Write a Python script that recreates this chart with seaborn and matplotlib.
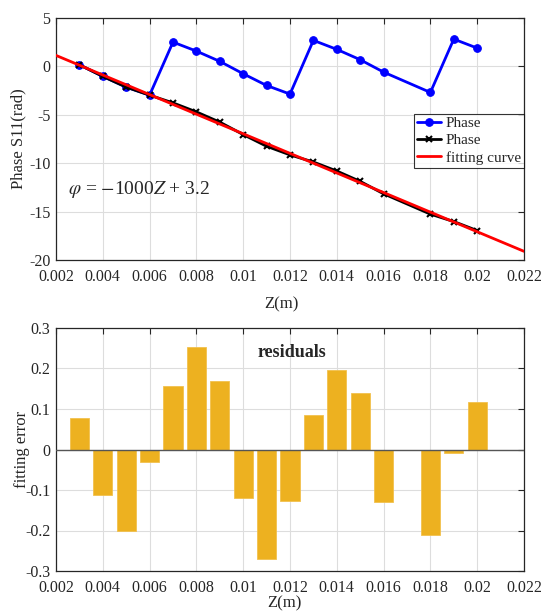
import numpy as np
import pandas as pd
import matplotlib
matplotlib.use("Agg")
import matplotlib.pyplot as plt
import seaborn as sns
from matplotlib.ticker import FuncFormatter, MultipleLocator

# ---------------- data ----------------
z = [0.003, 0.004, 0.005, 0.006, 0.007, 0.008, 0.009, 0.010, 0.011,
     0.012, 0.013, 0.014, 0.015, 0.016, 0.018, 0.019, 0.020]
phase_wrapped = [0.17, -1.03, -2.14, -2.97, 2.51, 1.58, 0.52, -0.76, -1.97,
                 -2.86, 2.69, 1.76, 0.69, -0.59, -2.69, 2.82, 1.89]
phase_unwrapped = [0.17, -1.03, -2.14, -2.97, -3.77, -4.70, -5.76, -7.04, -8.25,
                   -9.14, -9.88, -10.81, -11.88, -13.16, -15.26, -16.03, -16.96]
fit_z = [0.002, 0.022]
fit_slope = -1012.0
fit_intercept = 3.16
residuals = [0.077, -0.113, -0.201, -0.030, 0.157, 0.254, 0.169, -0.120, -0.270,
             -0.127, 0.085, 0.196, 0.140, -0.130, -0.210, -0.008, 0.117]

# ---------------- style ----------------
sns.set_theme(style="white")
plt.rcParams['font.family'] = ['Liberation Serif', 'DejaVu Serif']
plt.rcParams['mathtext.fontset'] = 'stix'
plt.rcParams['axes.unicode_minus'] = False

fig = plt.figure(figsize=(5.44, 6.13), dpi=100)
W, H = 544, 613
ax1 = fig.add_axes([56 / W, 1 - 260 / H, 468 / W, 242 / H])
ax2 = fig.add_axes([56 / W, 1 - 571 / H, 468 / W, 243 / H])

fmt = FuncFormatter(lambda v, p: ('%g' % round(v, 6)))

df1 = pd.DataFrame({'z': z, 'w': phase_wrapped, 'u': phase_unwrapped})
fit_vals = [fit_slope * v + fit_intercept for v in fit_z]
df_fit = pd.DataFrame({'z': fit_z, 'f': fit_vals})

sns.lineplot(data=df1, x='z', y='w', ax=ax1, color='#0000FF', lw=2,
             marker='o', markersize=5.5, markeredgecolor='#0000FF',
             label='Phase', zorder=3)
sns.lineplot(data=df1, x='z', y='u', ax=ax1, color='black', lw=2,
             marker='x', markersize=4, markeredgewidth=1.5, markeredgecolor='black',
             label='Phase', zorder=3)
sns.lineplot(data=df_fit, x='z', y='f', ax=ax1, color='#FF0000', lw=2,
             label='fitting curve', zorder=4)

ax1.set_xlim(0.002, 0.022)
ax1.set_ylim(-20, 5)
ax1.xaxis.set_major_locator(MultipleLocator(0.002))
ax1.yaxis.set_major_locator(MultipleLocator(5))
ax1.xaxis.set_major_formatter(fmt)
ax1.set_xlabel('Z(m)', fontsize=12)
ax1.set_ylabel('Phase S11(rad)', fontsize=12)
ax1.xaxis.set_label_coords(0.482, -0.182)
ax1.yaxis.set_label_coords(-0.081, 0.5)
ax1.xaxis.label.set_va('center')
ax1.yaxis.label.set_va('center')
ax1.text(0.025, 0.29, r'$\varphi$ = $-$1000$Z$ + 3.2', transform=ax1.transAxes,
         fontsize=14, ha='left', va='center')
leg = ax1.legend(loc='upper right', bbox_to_anchor=(1.0, 0.605), fontsize=11,
                 frameon=True, fancybox=False, edgecolor='black',
                 borderpad=0.2, handlelength=1.6, handletextpad=0.3,
                 labelspacing=0.22, borderaxespad=0)
leg.get_frame().set_linewidth(0.8)

# residual bars
df2 = pd.DataFrame({'z': z, 'r': residuals})
sns.barplot(data=df2, x='z', y='r', ax=ax2, native_scale=True, width=0.82,
            color='#EDB120', saturation=1, edgecolor='#F2C14E', linewidth=0.6,
            zorder=2)
ax2.axhline(0, color='#555555', lw=1.0, zorder=3)
ax2.set_xlim(0.002, 0.022)
ax2.set_ylim(-0.3, 0.3)
ax2.xaxis.set_major_locator(MultipleLocator(0.002))
ax2.yaxis.set_major_locator(MultipleLocator(0.1))
ax2.xaxis.set_major_formatter(fmt)
ax2.yaxis.set_major_formatter(fmt)
ax2.set_xlabel('Z(m)', fontsize=12)
ax2.set_ylabel('fitting error', fontsize=12)
ax2.xaxis.set_label_coords(0.489, -0.133)
ax2.yaxis.set_label_coords(-0.073, 0.5)
ax2.xaxis.label.set_va('center')
ax2.yaxis.label.set_va('center')
ax2.text(0.505, 0.9, 'residuals', transform=ax2.transAxes, fontsize=13,
         fontweight='bold', ha='center', va='center')

for ax in (ax1, ax2):
    ax.grid(True, color='#DDDDDD', lw=0.8, zorder=0)
    ax.set_axisbelow(True)
    for s in ax.spines.values():
        s.set_color('#262626')
        s.set_linewidth(0.9)
        s.set_visible(True)
    ax.tick_params(direction='in', length=4, width=0.8, top=True, right=True,
                   labelsize=11.5, colors='#262626', pad=4)
    ax.tick_params(axis='x', pad=6.5)

fig.savefig('out.png', dpi=100)
